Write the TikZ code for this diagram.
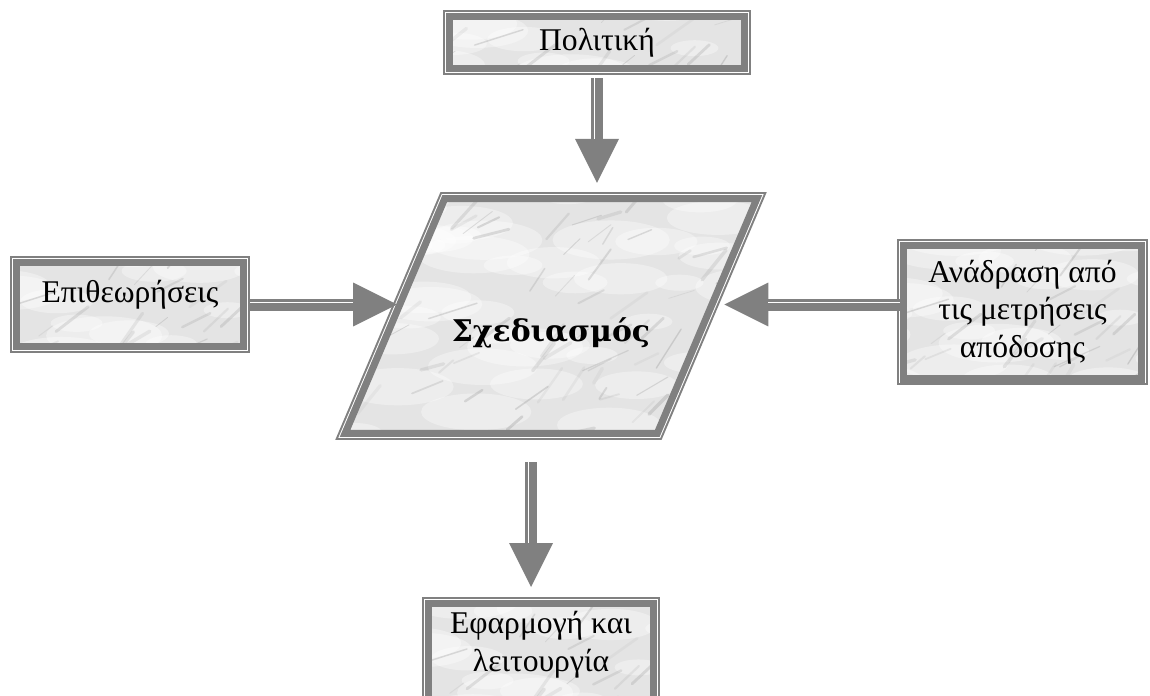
\documentclass[tikz,border=0pt]{standalone}
\usepackage{fontspec}
\setmainfont{Liberation Serif}
\newfontfamily\headfont{DejaVu Serif}
\usepackage{tikz}
\usetikzlibrary{arrows.meta,shapes.geometric}
\definecolor{frame}{HTML}{808080}
\definecolor{marble}{HTML}{E4E4E4}
\definecolor{vein}{HTML}{8C8C8C}

% light marble ground: soft clouds and thin grey veins
\newcommand{\marblefill}{%
  \fill[marble] (path picture bounding box.south west) rectangle (path picture bounding box.north east);
  \pgfmathsetseed{42}%
  \foreach \k in {1,...,60}{%
    \pgfmathsetmacro\vx{250*rand}\pgfmathsetmacro\vy{130*rand}%
    \pgfmathsetmacro\va{-30+15*rand}\pgfmathsetmacro\vl{20+40*rnd}%
    \fill[white,opacity=0.35,rotate around={\va:([shift={(\vx,\vy)}]path picture bounding box.center)}]
      ([shift={(\vx,\vy)}]path picture bounding box.center) ellipse ({\vl} and {\vl/3});
  }%
  \foreach \k in {1,...,90}{%
    \pgfmathsetmacro\vx{250*rand}\pgfmathsetmacro\vy{130*rand}%
    \pgfmathsetmacro\va{-35+25*rand}\pgfmathsetmacro\vl{12+40*rnd}%
    \pgfmathsetmacro\vo{0.08+0.22*rnd}\pgfmathsetmacro\vw{0.4+1.6*rnd}%
    \draw[vein,opacity=\vo,line width=\vw pt,line cap=round] ([shift={(\vx,\vy)}]path picture bounding box.center) -- ++(\va:\vl);
  }}

\begin{document}
\begin{tikzpicture}[x=0.02cm,y=-0.02cm,
  box/.style={draw=frame,line width=4pt,
    preaction={draw=frame,line width=7.4pt},
    preaction={draw=white,line width=5.1pt},
    path picture={\marblefill},
    align=center,inner sep=0pt,font=\fontsize{18}{21.5}\selectfont},
  flow/.style={draw=frame,line width=0.24cm,-{Triangle[length=0.88cm,width=0.88cm,line width=0pt]}},
  vflow/.style={flow,postaction={draw=white,line width=0.5pt,-,shorten >=0.88cm,transform canvas={xshift=-0.05cm}}},
  hflow/.style={flow,postaction={draw=white,line width=0.5pt,-,shorten >=0.88cm,transform canvas={yshift=0.05cm}}}]
\useasboundingbox (0,0) rectangle (1150,696);
\clip (0,0) rectangle (1150,696);

\node[box,minimum width=5.9cm,minimum height=1.04cm] (pol) at (597,42.5) {Πολιτική};
\node[box,minimum width=4.54cm,minimum height=1.68cm,text depth=0.52cm] (epi) at (130,304.5) {Επιθεωρήσεις};
\node[box,minimum width=4.76cm,minimum height=2.68cm] (fb) at (1022.5,312) {Ανάδραση από\\τις μετρήσεις\\απόδοσης};
\node[box,minimum width=4.5cm,minimum height=2.33cm,text depth=0.82cm] (impl) at (541,661.75) {Εφαρμογή και\\λειτουργία};
\node[box,shape=trapezium,trapezium left angle=67,trapezium right angle=113,trapezium stretches body,
  minimum width=8.24cm,inner xsep=0pt,inner ysep=1.69cm,text height=1.18cm,text depth=0.14cm,
  font=\headfont\bfseries\fontsize{17}{20}\selectfont] (plan) at (551,316) {Σχεδιασμός};

\draw[vflow] ([yshift=-0.12cm]pol.south) -- ([yshift=0.24cm]pol.south |- plan.north);
\draw[hflow] ([xshift=0.06cm]epi.east) -- ([xshift=0.12cm]epi.east -| plan.west);
\draw[hflow] (fb.west |- epi.east) -- ([xshift=0.27cm]epi.east -| plan.east);
\draw[vflow] ([xshift=-0.2cm,yshift=-0.5cm]impl.north |- plan.south) -- ([xshift=-0.2cm,yshift=0.26cm]impl.north);
\end{tikzpicture}
\end{document}
